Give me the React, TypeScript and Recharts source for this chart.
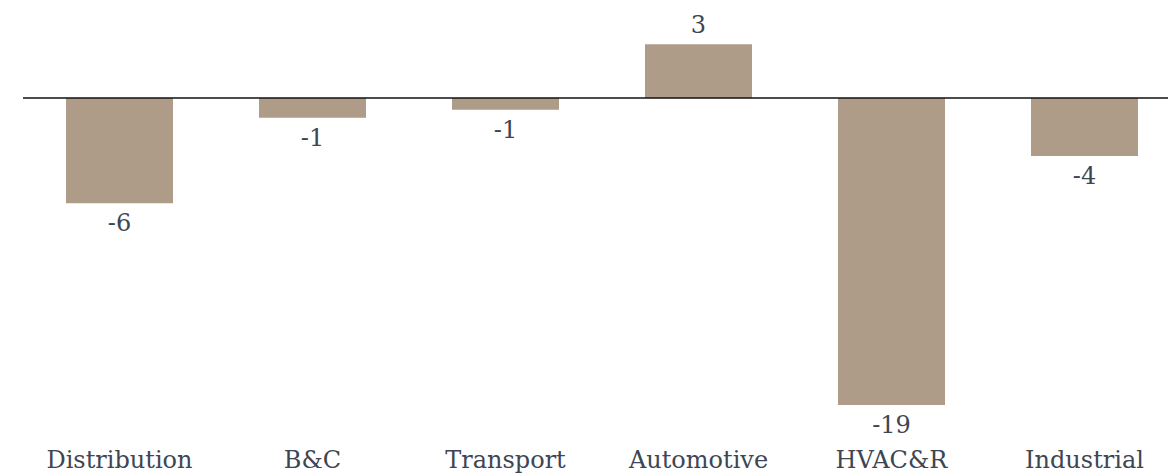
import React from "react";
import {
  BarChart,
  Bar,
  XAxis,
  YAxis,
  ReferenceLine,
  LabelList,
} from "recharts";

const CATEGORIES = [
  "Distribution",
  "B&C",
  "Transport",
  "Automotive",
  "HVAC&R",
  "Industrial",
];
const VALUES = [-6.46, -1.21, -0.72, 3.29, -18.83, -3.56];
const VALUE_LABELS = ["-6", "-1", "-1", "3", "-19", "-4"];

const BAR_COLOR = "#ae9c89";
const TEXT_COLOR = "#3d4652";
const FONT = "'DejaVu Serif', serif";

const data = CATEGORIES.map((name, i) => ({
  name,
  value: VALUES[i],
  label: VALUE_LABELS[i],
}));

function ValueLabel(props: any) {
  const { x, y, width, height, index } = props;
  const top = Math.min(y, y + height);
  const bottom = Math.max(y, y + height);
  const v = VALUES[index];
  const ty = v >= 0 ? top - 11 : bottom + 28;
  return (
    <text
      x={x + width / 2}
      y={ty}
      textAnchor="middle"
      fill={TEXT_COLOR}
      fontSize={24}
      fontFamily={FONT}
    >
      {VALUE_LABELS[index]}
    </text>
  );
}

export default function App() {
  return (
    <div
      style={{
        position: "absolute",
        left: 0,
        top: 0,
        width: 1168,
        height: 474,
        overflow: "hidden",
        background: "#fff",
      }}
    >
      <BarChart
        width={1181}
        height={474}
        data={data}
        margin={{ top: 32.8, right: 0, bottom: 0, left: 23 }}
      >
        <XAxis
          dataKey="name"
          axisLine={false}
          tickLine={false}
          tickSize={0}
          tickMargin={27}
          height={50}
          interval={0}
          tick={{ fill: TEXT_COLOR, fontSize: 24, fontFamily: FONT }}
        />
        <YAxis hide domain={[-20, 4]} />
        <Bar
          dataKey="value"
          fill={BAR_COLOR}
          barSize={107}
          isAnimationActive={false}
        >
          <LabelList dataKey="label" content={<ValueLabel />} />
        </Bar>
        <ReferenceLine y={0} stroke="#111" strokeWidth={1.5} />
      </BarChart>
    </div>
  );
}
